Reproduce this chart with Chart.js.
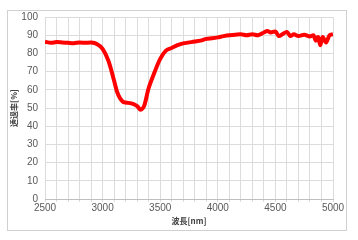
<!DOCTYPE html>
<html>
<head>
<meta charset="utf-8">
<script src="https://cdn.jsdelivr.net/npm/chart.js@4"></script>
<style>
    html, body { margin: 0; padding: 0; background: #fff; }
    #wrap { position: relative; width: 358px; height: 240px; }
    #frame { position: absolute; left: 7px; top: 10px; width: 338px; height: 219px; border: 1px solid #d0d0d0; pointer-events: none; }
</style>
</head>
<body>
<div id="wrap">
    <div id="frame"></div>
    <canvas id="chart" width="358" height="240"></canvas>
</div>
<script>
// ============================================
// DATA
// ============================================

const wavelength = [
    2500, 2550, 2600, 2650, 2700, 2750, 2800, 2850, 2900, 2950,
    3000, 3050, 3100, 3125, 3150, 3175, 3200, 3250, 3300, 3330,
    3360, 3400, 3450, 3500, 3550, 3600, 3650, 3700, 3800, 3850,
    3900, 3950, 4000, 4050, 4100, 4150, 4200, 4250, 4300, 4350,
    4400, 4430, 4460, 4500, 4530, 4560, 4600, 4630, 4660, 4700,
    4750, 4800, 4830, 4850, 4870, 4890, 4910, 4940, 4970, 5000
];

const transmittance = [
    86.4, 85.8, 86.2, 86.0, 85.8, 85.6, 86.0, 85.8, 86.0, 85.2,
    82.5, 76.0, 65.0, 59.0, 55.5, 53.5, 53.0, 52.5, 51.0, 49.0,
    51.0, 61.0, 69.5, 77.0, 81.5, 83.0, 84.5, 85.5, 86.5, 87.0,
    88.0, 88.3, 88.8, 89.5, 90.0, 90.2, 90.5, 90.0, 90.5, 90.0,
    91.5, 92.3, 91.5, 92.0, 89.5, 90.5, 91.8, 89.5, 90.5, 89.5,
    90.2, 89.3, 90.0, 87.0, 89.0, 84.5, 89.0, 86.0, 90.0, 90.5
];

const xTicks = [2500, 3000, 3500, 4000, 4500, 5000];
const yTicks = [0, 10, 20, 30, 40, 50, 60, 70, 80, 90, 100];

// ============================================
// CHART
// ============================================

const labelFont = { family: "'Liberation Sans', 'Open Sans', sans-serif", size: 10 };
const titleFont = { family: "'Noto Sans CJK JP', sans-serif", size: 8, weight: 'bold' };
const gridColor = '#dcdcdc';
const textColor = '#595959';

new Chart(document.getElementById('chart').getContext('2d'), {
    type: 'line',
    data: {
        datasets: [{
            data: wavelength.map((w, i) => ({ x: w, y: transmittance[i] })),
            borderColor: '#ff0000',
            backgroundColor: '#ff0000',
            borderWidth: 4,
            pointRadius: 0,
            tension: 0.3,
            fill: false
        }]
    },
    options: {
        responsive: false,
        animation: false,
        layout: { padding: { top: 17, right: 25, left: 9, bottom: 14 } },
        plugins: { legend: { display: false }, tooltip: { enabled: false } },
        scales: {
            x: {
                type: 'linear',
                min: 2500,
                max: 5000,
                ticks: {
                    stepSize: 100,
                    autoSkip: false,
                    maxRotation: 0,
                    color: textColor,
                    font: labelFont,
                    padding: 0,
                    callback: v => xTicks.includes(v) ? String(v) : ''
                },
                grid: { color: gridColor, tickLength: 3, tickColor: gridColor },
                border: { color: '#bfbfbf' },
                title: { display: true, text: '波長[nm]', color: '#404040', font: titleFont, padding: { top: 0, bottom: 0 } },
                afterFit: s => { s.height = 27; }
            },
            y: {
                min: 0,
                max: 100,
                afterBuildTicks: s => { s.ticks = yTicks.map(v => ({ value: v })); },
                ticks: { color: textColor, font: labelFont, padding: 7 },
                grid: { color: gridColor, drawTicks: false },
                border: { display: false },
                title: { display: true, text: '透過率[%]', color: '#404040', font: titleFont, padding: { top: 0, bottom: 0 } },
                afterFit: s => { s.width = 36; }
            }
        }
    }
});
</script>
</body>
</html>
